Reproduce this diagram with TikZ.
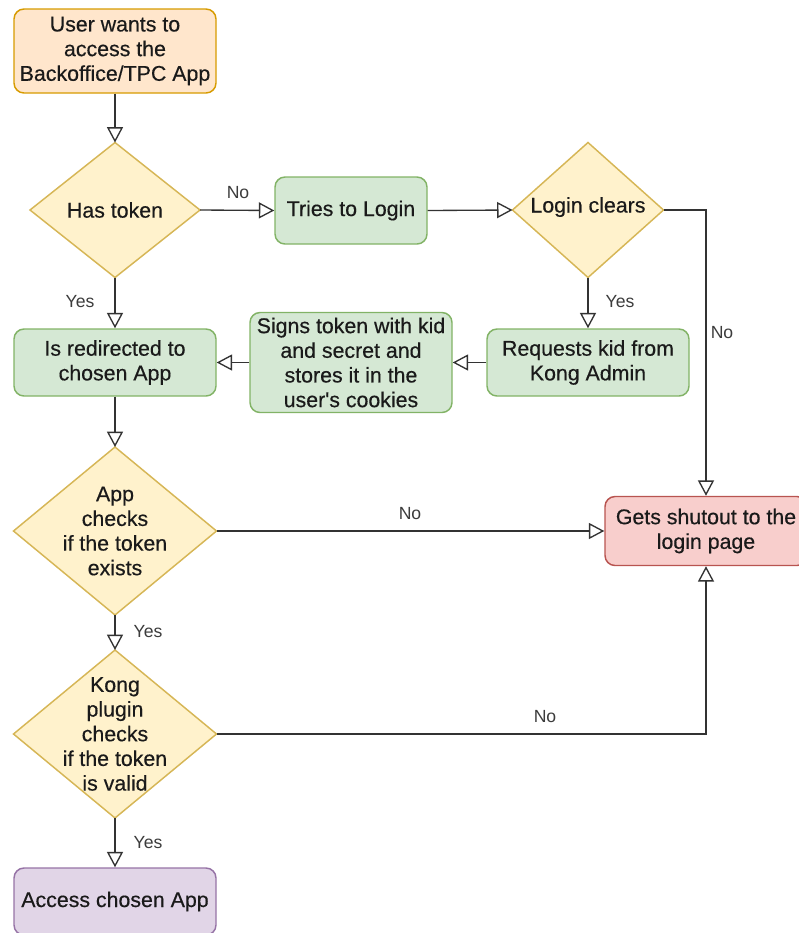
\documentclass[tikz,border=0pt]{standalone}
\usepackage{fontspec}
\setmainfont{Liberation Sans}[Ligatures=TeXOff]
\usetikzlibrary{shapes.geometric,arrows.meta}

\definecolor{startfill}{HTML}{FFE6CC}
\definecolor{startline}{HTML}{D79B00}
\definecolor{decfill}{HTML}{FFF2CC}
\definecolor{decline}{HTML}{D6B656}
\definecolor{okfill}{HTML}{D5E8D4}
\definecolor{okline}{HTML}{82B366}
\definecolor{badfill}{HTML}{F8CECC}
\definecolor{badline}{HTML}{B85450}
\definecolor{endfill}{HTML}{E1D5E7}
\definecolor{endline}{HTML}{9673A6}
\definecolor{txtc}{HTML}{1A1A1A}
\definecolor{lblc}{HTML}{3C3C3C}
\definecolor{linec}{HTML}{333333}

\def\pxu{0.75pt}
\newfontfamily\boxfamily{Liberation Sans}[Ligatures=TeXOff, FakeBold=0.4]
\newcommand\nodefont{\boxfamily\fontsize{16}{18.5}\selectfont}
\newcommand\lblfont{\fontsize{13.2}{15}\selectfont}

\tikzset{
  box/.style={draw, rounded corners=7.5pt, line width=1.1pt, inner sep=0pt,
    minimum width=202*\pxu, minimum height=67*\pxu, align=center,
    text=txtc, font=\nodefont},
  startbox/.style={box, fill=startfill, draw=startline},
  okbox/.style={box, fill=okfill, draw=okline},
  badbox/.style={box, fill=badfill, draw=badline},
  endbox/.style={box, fill=endfill, draw=endline},
  decision/.style={diamond, draw=decline, fill=decfill, line width=1.1pt,
    inner sep=0pt, outer sep=0pt},
  dectext/.style={align=center, text=txtc, font=\nodefont, inner sep=0pt},
  lbl/.style={text=lblc, font=\lblfont, inner sep=0pt},
  conn/.style={draw=linec, line width=1pt,
    -{Triangle[length=11.5pt, width=12pt, fill=white]}},
}

\begin{document}
\begin{tikzpicture}[x=0.75pt, y=-0.75pt]
\useasboundingbox (0,0) rectangle (799,933);
\clip (0,0) rectangle (799,933);

% process boxes
\node[startbox, minimum height=84*\pxu] (start) at (115,51)
  {User wants to\\access the\\Backoffice/TPC App};
\node[okbox, minimum width=152*\pxu] (tries) at (351,210.5) {Tries to Login};
\node[okbox] (redir) at (115,362.5) {Is redirected to\\chosen App};
\node[okbox, minimum height=100*\pxu] (signs) at (351,362.5)
  {Signs token with kid\\and secret and\\stores it in the\\user's cookies};
\node[okbox] (req) at (588,362.5) {Requests kid from\\Kong Admin};
\node[badbox, minimum height=69*\pxu] (shut) at (706,531)
  {Gets shutout to the\\login page};
\node[endbox] (access) at (115,901.5) {Access chosen App};

% decisions
\node[decision, minimum width=170*\pxu, minimum height=135*\pxu] (has) at (115,210) {};
\node[dectext] (has-t) at (has) {Has token};
\node[decision, minimum width=151*\pxu, minimum height=135*\pxu] (clr) at (588,210) {};
\node[dectext] (clr-t) at (588,207) {Login clears};
\node[decision, minimum width=203*\pxu, minimum height=168*\pxu] (app) at (115,531) {};
\node[dectext] (app-t) at (app) {App\\checks\\if the token\\exists};
\node[decision, minimum width=203*\pxu, minimum height=168*\pxu] (kong) at (115,734) {};
\node[dectext] (kong-t) at (kong) {Kong\\plugin\\checks\\if the token\\is valid};

% connectors
\draw[conn] (start.south) -- (has.north);
\draw[conn] (has.east) -- (tries.west);
\draw[conn] (tries.east) -- (clr.west);
\draw[conn] (clr.east) -| (shut.north);
\draw[conn] (clr.south) -- (req.north);
\draw[conn] (req.west) -- (signs.east);
\draw[conn] (signs.west) -- (redir.east);
\draw[conn] (has.south) -- (redir.north);
\draw[conn] (redir.south) -- (app.north);
\draw[conn] (app.east) -- (app.east -| shut.west);
\draw[conn] (app.south) -- (kong.north);
\draw[conn] (kong.east) -| (shut.south);
\draw[conn] (kong.south) -- (access.north);

% connector labels
\node[lbl] (l-has-no) at (238,193) {No};
\node[lbl] (l-has-yes) at (80,302) {Yes};
\node[lbl] (l-clr-yes) at (620,302) {Yes};
\node[lbl] (l-clr-no) at (722,333) {No};
\node[lbl] (l-app-no) at (410,514) {No};
\node[lbl] (l-app-yes) at (148,632) {Yes};
\node[lbl] (l-kong-no) at (545,717) {No};
\node[lbl] (l-kong-yes) at (148,843) {Yes};
\end{tikzpicture}
\end{document}
